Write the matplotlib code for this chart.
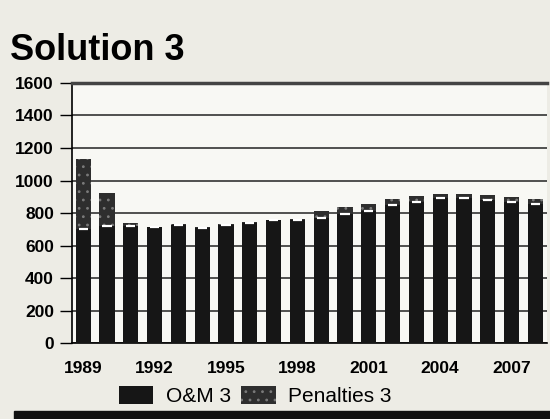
import numpy as np
import matplotlib
matplotlib.use('Agg')
import matplotlib.pyplot as plt
from matplotlib.patches import Rectangle

# data
years = list(range(1989, 2009))
om = [700, 720, 722, 712, 728, 708, 726, 740, 755, 760,
      772, 792, 812, 848, 868, 892, 890, 880, 866, 855]
penalties = [430, 205, 15, 4, 4, 4, 4, 3, 2, 3,
             42, 47, 41, 38, 37, 23, 27, 33, 34, 29]
tick_years = [1989, 1992, 1995, 1998, 2001, 2004, 2007]
yticks = [0, 200, 400, 600, 800, 1000, 1200, 1400, 1600]

plt.rcParams['font.family'] = ['Liberation Sans', 'DejaVu Sans']
plt.rcParams['hatch.linewidth'] = 0.8

fig = plt.figure(figsize=(5.5, 4.19), dpi=100, facecolor='#edece5')
ax = fig.add_axes([0.131, 0.181, 0.864, 0.621])
ax.set_facecolor('#f8f8f4')

x = np.arange(len(years))
w = 0.64
ax.bar(x, om, width=w, color='#161616', zorder=3, label='O&M 3')
ax.bar(x, penalties, bottom=om, width=w, color='#2e2e2e', hatch='..',
       edgecolor='#7a7a7a', linewidth=0, zorder=3, label='Penalties 3')
# white seam between the two parts
ax.hlines(om, x - w * 0.3, x + w * 0.3, color='white', lw=1.6, zorder=4)

ax.set_xlim(-0.47, len(years) - 0.5)
ax.set_ylim(0, 1600)
ax.set_yticks(yticks)
ax.set_yticklabels([str(v) for v in yticks], fontsize=12.5, fontweight='bold')
ax.set_xticks([years.index(y) for y in tick_years])
ax.set_xticklabels([str(y) for y in tick_years], fontsize=12.5, fontweight='bold')
ax.tick_params(axis='x', length=0, pad=13)
ax.tick_params(axis='y', length=9, width=1, direction='out', pad=4)
ax.yaxis.grid(True, color='#222222', lw=1.1, zorder=1)

ax.spines['right'].set_visible(False)
ax.spines['top'].set_linewidth(2.5)
ax.spines['top'].set_color('#444444')
ax.spines['left'].set_linewidth(1.2)
ax.spines['bottom'].set_linewidth(1.2)

fig.text(0.018, 0.857, 'Solution 3', fontsize=26, fontweight='bold',
         ha='left', va='baseline')

fig.legend(*ax.get_legend_handles_labels(), loc='center',
           bbox_to_anchor=(0.464, 0.055), ncol=2, frameon=False, fontsize=15,
           handlelength=1.65, handleheight=1.0, columnspacing=0.5,
           handletextpad=0.6, borderpad=0)

# dark band along the bottom edge of the scan
fig.patches.append(Rectangle((0.026, 0.0), 0.974, 0.02, transform=fig.transFigure,
                             color='#111111', zorder=0))

plt.savefig('out.png', dpi=100, facecolor=fig.get_facecolor())
